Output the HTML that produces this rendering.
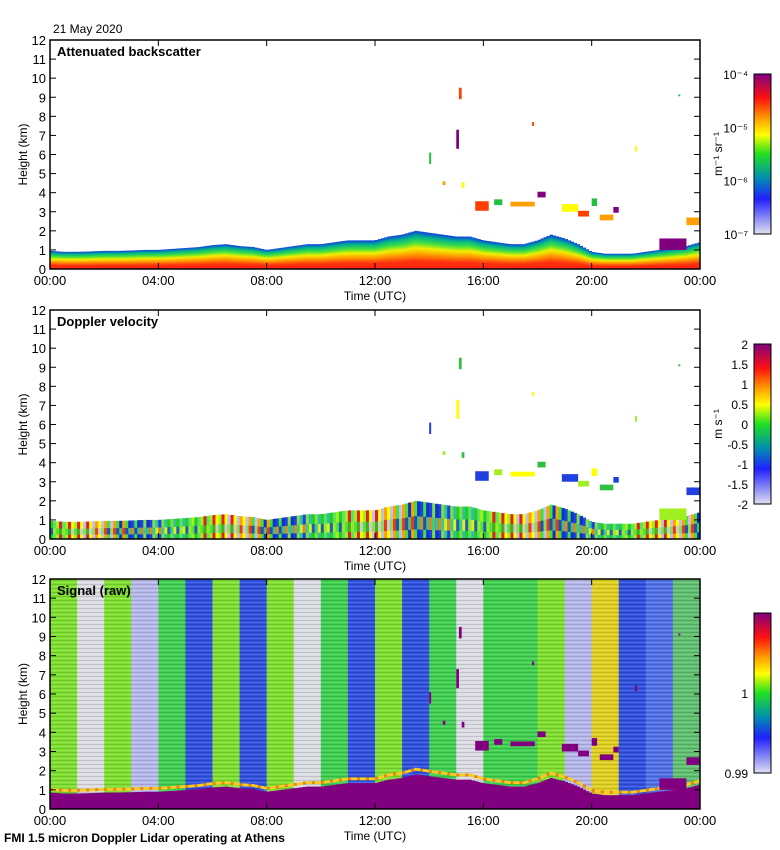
<!DOCTYPE html>
<html><head><meta charset="utf-8"><style>
body{margin:0;background:#fff;}
svg{display:block;font-family:"Liberation Sans",sans-serif;}
</style></head><body>
<svg id="fig" width="780" height="850" viewBox="0 0 780 850">
<defs>
<linearGradient id="bscCb" x1="0" y1="1" x2="0" y2="0">
<stop offset="0" stop-color="#e0e0f0"/><stop offset="0.22" stop-color="#2020ff"/><stop offset="0.35" stop-color="#0090b0"/><stop offset="0.5" stop-color="#20e020"/><stop offset="0.62" stop-color="#ffff00"/><stop offset="0.72" stop-color="#ffa000"/><stop offset="0.85" stop-color="#ff1010"/><stop offset="1" stop-color="#800080"/>
</linearGradient>
<linearGradient id="layerGrad" x1="0" y1="1" x2="0" y2="0">
<stop offset="0" stop-color="#ff2010"/><stop offset="0.2" stop-color="#ff3010"/><stop offset="0.4" stop-color="#ffa000"/><stop offset="0.55" stop-color="#f0f000"/><stop offset="0.7" stop-color="#40e040"/><stop offset="0.86" stop-color="#00b090"/><stop offset="1" stop-color="#1040e0"/>
</linearGradient>
<pattern id="hlines" width="6" height="4" patternUnits="userSpaceOnUse">
<rect x="0" y="0" width="6" height="1" fill="#000" opacity="0.12"/><rect x="0" y="2" width="6" height="1" fill="#fff" opacity="0.15"/>
</pattern>
</defs>
<text x="53" y="33" font-size="12">21 May 2020</text>
<text x="4" y="842" font-size="12" font-weight="bold">FMI 1.5 micron Doppler Lidar operating at Athens</text>
<g id="plots"></g>
</svg>
<script>
// ---- data ----
const layerHours = [0,0.5,1,1.5,2,2.5,3,3.5,4,4.5,5,5.5,6,6.5,7,7.5,8,8.5,9,9.5,10,10.5,11,11.5,12,12.5,13,13.5,14,14.5,15,15.5,16,16.5,17,17.5,18,18.5,19,19.5,20,20.5,21,21.5,22,22.5,23,23.5,24];
const layerTop = [0.95,0.9,0.9,0.92,0.95,0.95,0.97,1.0,1.0,1.05,1.1,1.15,1.25,1.3,1.2,1.15,1.0,1.1,1.2,1.3,1.3,1.4,1.5,1.5,1.5,1.7,1.8,2.0,1.9,1.8,1.7,1.7,1.5,1.4,1.3,1.3,1.5,1.8,1.6,1.3,0.9,0.8,0.8,0.8,0.9,1.0,1.1,1.2,1.4];
const cloudTimes = [15.1,14.0,14.5,15.0,15.2,15.7,16.4,17.0,18.0,18.9,19.5,20.0,20.3,20.8,21.6,17.8,23.2,23.5,22.5];
const cloudHeights = [9.2,5.8,4.5,6.8,4.4,3.3,3.5,3.4,3.9,3.2,2.9,3.5,2.7,3.1,6.3,7.6,9.1,2.5,1.3];
const cloudSpans = [0.1,0.05,0.1,0.1,0.1,0.5,0.3,0.9,0.3,0.6,0.4,0.2,0.5,0.2,0.05,0.03,0.05,0.5,1.0];
const cloudThick = [0.6,0.6,0.2,1.0,0.3,0.5,0.3,0.25,0.3,0.4,0.3,0.4,0.3,0.3,0.3,0.2,0.1,0.4,0.6];
const xTicks = ["00:00","04:00","08:00","12:00","16:00","20:00","00:00"];
const yTicks = [0,1,2,3,4,5,6,7,8,9,10,11,12];
const stripeStarts = [0,1,2,3,4,5,6,7,8,9,10,11,12,13,14,15,16,17,18,19,20,21,22,23];
const stripeKinds = ["gy","gray","gy","lblue","g","blue","gy","blue","gy","gray","g","blue","gy","blue","g","gray","g","g","gy","lblue","yo","blue","bluew","bg"];
const velCbTicks = ["2","1.5","1","0.5","0","-0.5","-1","-1.5","-2"];
const sigCbTicks = ["1","0.99"];
// ---- helpers ----
const NS="http://www.w3.org/2000/svg";
const X0=50,X1=700;
const xs=h=>X0+(X1-X0)*h/24;
function mk(tag,attrs,parent){const e=document.createElementNS(NS,tag);for(const k in attrs)e.setAttribute(k,attrs[k]);parent.appendChild(e);return e;}
function interp(h){for(let i=0;i<layerHours.length-1;i++){if(h<=layerHours[i+1]){const t=(h-layerHours[i])/(layerHours[i+1]-layerHours[i]);return layerTop[i]+t*(layerTop[i+1]-layerTop[i]);}}return layerTop[layerTop.length-1];}
const root=document.getElementById('plots');
const panels=[{top:40,bot:269,title:"Attenuated backscatter",name:"backscatter"},{top:310,bot:539,title:"Doppler velocity",name:"velocity"},{top:579,bot:809,title:"Signal (raw)",name:"signal"}];
const velColors=["#20d020","#40e040","#a0f020","#2040e0","#ffff00","#30c0a0","#ffa000","#60e060","#1030d0","#e02020","#80e040","#c0c0f0"];
const stripeCol={gy:"#80e030",g:"#40d050",gray:"#dcdce4",lblue:"#b8b8ec",blue:"#3050e0",bluew:"#5070e8",yo:"#e0d020",bg:"#60c070"};
const cloudCol=["#ff4000","#20c040","#ffa000","#800080","#ffff00"];
const cloudVel=["#30c040","#2040e0","#a0f020","#ffff00"];
panels.forEach((p,pi)=>{
 const g=mk('g',{},root);
 
 
 const ys=v=>p.bot-(p.bot-p.top)*v/12;
 const N=216,cw=(X1-X0)/N;
 if(pi===2){
  stripeStarts.forEach((s,i)=>{
   const r=mk('rect',{x:xs(s),y:p.top,width:xs(s+1)-xs(s)+0.5,height:p.bot-p.top,fill:stripeCol[stripeKinds[i]]},g);
   
   
  });
  mk('rect',{x:X0,y:p.top,width:X1-X0,height:p.bot-p.top,fill:"url(#hlines)"},g);
 }
 for(let i=0;i<N;i++){
  const h=(i+0.5)*24/N,top=interp(h);
  if(pi===0){
   const r=mk('rect',{x:X0+i*cw,y:ys(top),width:cw+0.4,height:ys(0)-ys(top),fill:"url(#layerGrad)"},g);
   
   
  }else if(pi===1){
   const k=(i*7+(i>>2)*3)%velColors.length;
   const r=mk('rect',{x:X0+i*cw,y:ys(top),width:cw+0.4,height:ys(0)-ys(top),fill:velColors[k]},g);
   
   
   const r2=mk('rect',{x:X0+i*cw,y:ys(top*0.6),width:cw+0.4,height:ys(top*0.25)-ys(top*0.6),fill:velColors[(k*5+3)%velColors.length],opacity:0.8},g);
   
   
  }else{
   const r0=mk('rect',{x:X0+i*cw,y:ys(top+0.15),width:cw+0.4,height:ys(top)-ys(top+0.15),fill:i%3?"#f0d020":"#f08020"},g);
   
   
   const r=mk('rect',{x:X0+i*cw,y:ys(top*0.9),width:cw+0.4,height:ys(0)-ys(top*0.9),fill:"#800080"},g);
   
   
  }
 }
 cloudTimes.forEach((t,i)=>{
  const th=cloudThick[i];
  const x=xs(t),w=Math.max(2,xs(cloudSpans[i])-xs(0)),y=ys(cloudHeights[i]+th/2),hh=ys(0)-ys(th);
  const fill=pi===0?cloudCol[i%cloudCol.length]:(pi===1?cloudVel[i%cloudVel.length]:"#800080");
  const r=mk('rect',{x:x,y:y,width:w,height:hh,fill:fill},g);
  
  
 });
 const fr=mk('rect',{x:X0,y:p.top,width:X1-X0,height:p.bot-p.top,fill:"none",stroke:"#000","stroke-width":1.5},g);
 
 
 yTicks.forEach(v=>{
  mk('line',{x1:X0,x2:X0+6,y1:ys(v),y2:ys(v),stroke:"#000"},g);
  mk('line',{x1:X1,x2:X1-6,y1:ys(v),y2:ys(v),stroke:"#000"},g);
  const t=mk('text',{x:X0-4,y:ys(v)+5,"font-size":13,"text-anchor":"end"},g);t.textContent=v;
  
  
 });
 xTicks.forEach((s,i)=>{
  const x=xs(i*4);
  mk('line',{x1:x,x2:x,y1:p.bot,y2:p.bot-6,stroke:"#000"},g);
  mk('line',{x1:x,x2:x,y1:p.top,y2:p.top+6,stroke:"#000"},g);
  const t=mk('text',{x:x,y:p.bot+16,"font-size":13,"text-anchor":"middle"},g);t.textContent=s;
  
  
 });
 const xt=mk('text',{x:375,y:p.bot+31,"font-size":12,"text-anchor":"middle"},g);xt.textContent="Time (UTC)";
 
 
 const yt=mk('text',{x:27,y:(p.top+p.bot)/2,"font-size":12,"text-anchor":"middle",transform:`rotate(-90 27 ${(p.top+p.bot)/2})`},g);yt.textContent="Height (km)";
 
 
 const tt=mk('text',{x:57,y:p.top+16,"font-size":13,"font-weight":"bold"},g);tt.textContent=p.title;
 
 
 const cbT=p.top+34,cbB=p.top+194;
 const cb=mk('rect',{x:754,y:cbT,width:17,height:cbB-cbT,fill:"url(#bscCb)",stroke:"#000"},g);
 
 
 let labels,unit;
 if(pi===0){labels=["10\u207B\u2074","10\u207B\u2075","10\u207B\u2076","10\u207B\u2077"];unit="m\u207B\u00B9 sr\u207B\u00B9";}
 else if(pi===1){labels=velCbTicks;unit="m s\u207B\u00B9";}
 else{labels=sigCbTicks;unit="";}
 labels.forEach((l,i)=>{
  let y;
  if(pi===2)y=i===0?cbT+(cbB-cbT)*0.5:cbB;
  else y=cbT+(cbB-cbT)*i/(labels.length-1);
  const t=mk('text',{x:748,y:y+5,"font-size":12,"text-anchor":"end"},g);t.textContent=l;
  
  
 });
 if(unit){
  const my=(cbT+cbB)/2;
  const u=mk('text',{x:722,y:my,"font-size":12,"text-anchor":"middle",transform:`rotate(-90 722 ${my})`},g);u.textContent=unit;
  
  
 }
});
</script>
</body></html>
